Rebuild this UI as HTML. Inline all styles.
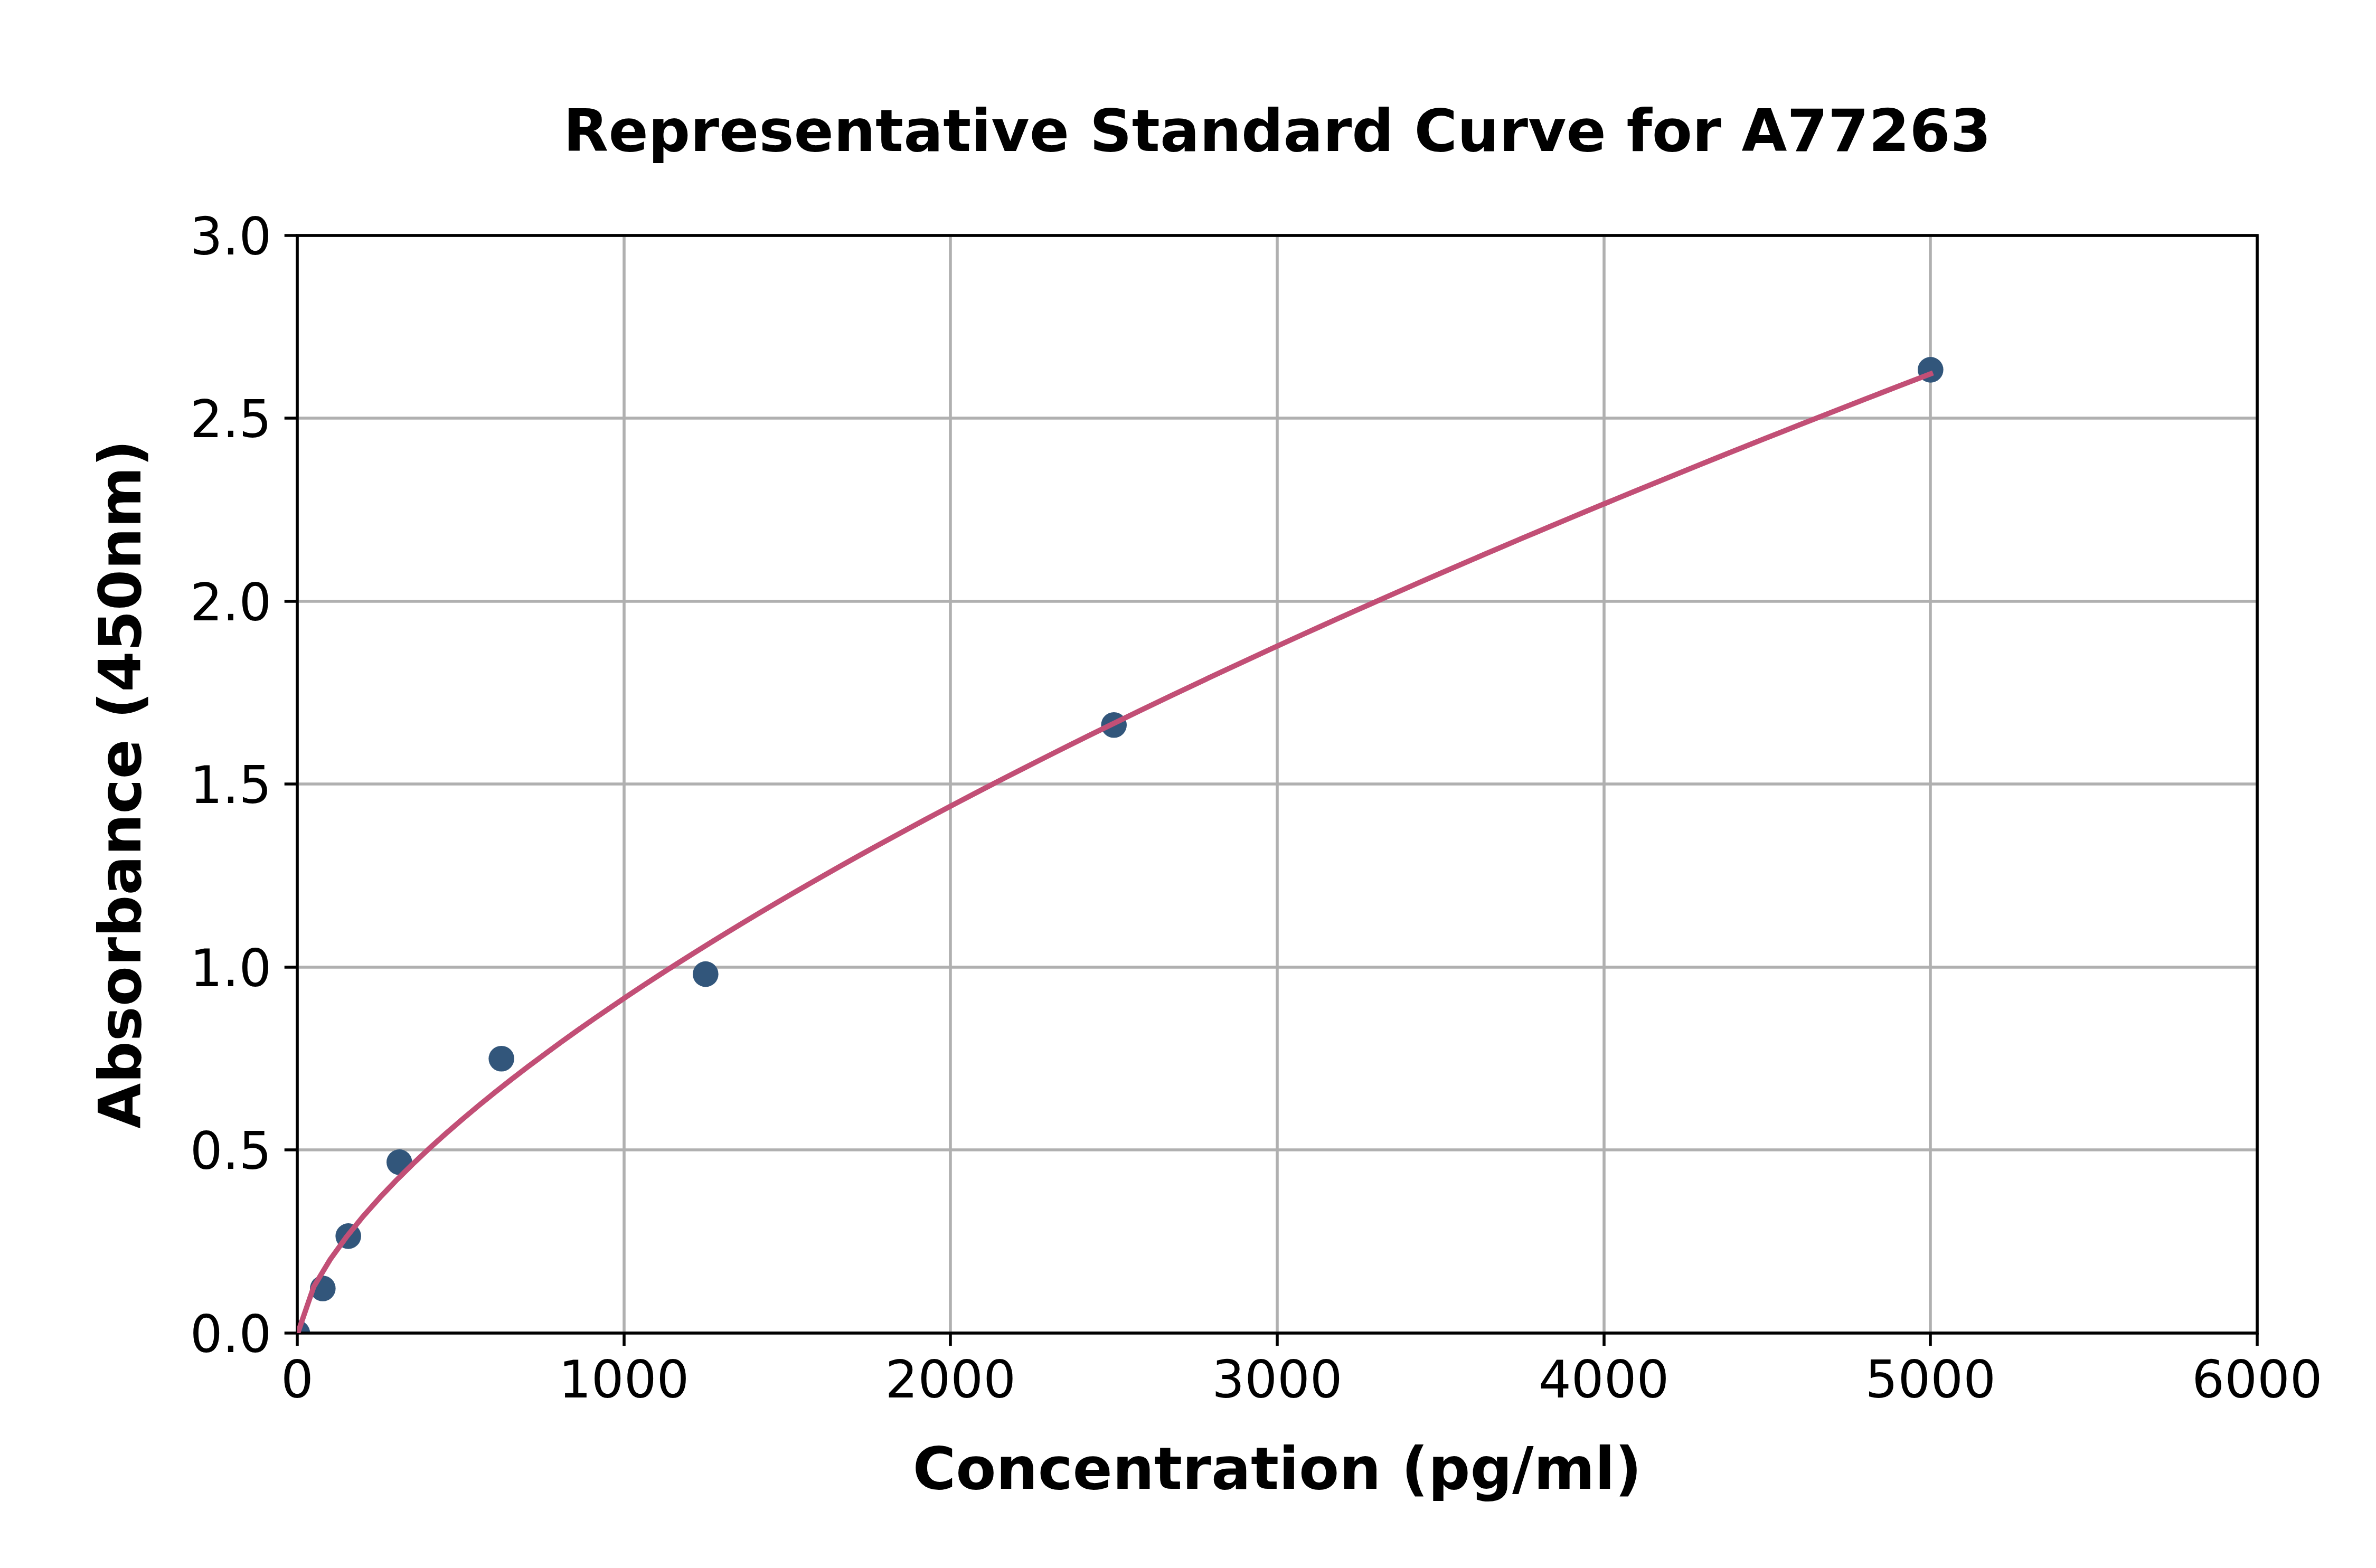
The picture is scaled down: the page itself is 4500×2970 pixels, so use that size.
<!DOCTYPE html>
<html lang="en"><head><meta charset="utf-8"><title>Representative Standard Curve for A77263</title>
<style>html,body{margin:0;padding:0;background:#fff;}body{width:4500px;height:2970px;overflow:hidden;}svg{display:block;}text{font-family:"DejaVu Sans","Liberation Sans",sans-serif;fill:#000;}.t{font-size:97.22px;}.b{font-size:111.11px;font-weight:bold;}</style></head><body>
<svg width="4500" height="2970" viewBox="0 0 4500 2970">
<rect width="4500" height="2970" fill="#fff"/>
<defs><clipPath id="ax"><rect x="563" y="446" width="3712" height="2079"/></clipPath></defs>
<path d="M563.00 446 V2525 M1182.00 446 V2525 M1800.00 446 V2525 M2419.00 446 V2525 M3038.00 446 V2525 M3656.00 446 V2525 M4275.00 446 V2525 M563 2525.00 H4275 M563 2178.00 H4275 M563 1832.00 H4275 M563 1485.00 H4275 M563 1139.00 H4275 M563 792.00 H4275 M563 446.00 H4275" stroke="#b0b0b0" stroke-width="5.56" fill="none"/>
<g clip-path="url(#ax)" fill="#32567b">
<circle cx="563.00" cy="2525.00" r="24.3"/>
<circle cx="611.33" cy="2440.45" r="24.3"/>
<circle cx="659.67" cy="2341.36" r="24.3"/>
<circle cx="756.33" cy="2201.37" r="24.3"/>
<circle cx="949.67" cy="2005.25" r="24.3"/>
<circle cx="1336.33" cy="1845.17" r="24.3"/>
<circle cx="2109.67" cy="1373.23" r="24.3"/>
<circle cx="3656.33" cy="700.33" r="24.3"/>
</g>
<path d="M563.00 2525 v24.30 M1182.00 2525 v24.30 M1800.00 2525 v24.30 M2419.00 2525 v24.30 M3038.00 2525 v24.30 M3656.00 2525 v24.30 M4275.00 2525 v24.30 M563 2525.00 h-24.30 M563 2178.00 h-24.30 M563 1832.00 h-24.30 M563 1485.00 h-24.30 M563 1139.00 h-24.30 M563 792.00 h-24.30 M563 446.00 h-24.30" stroke="#000" stroke-width="5.56" fill="none"/>
<rect x="563" y="446" width="3712" height="2079" fill="none" stroke="#000" stroke-width="5.56" stroke-linejoin="miter"/>
<polyline clip-path="url(#ax)" points="563.00,2527.91 594.25,2437.21 625.49,2385.31 656.74,2342.10 687.98,2303.71 719.23,2268.56 750.47,2235.78 781.72,2204.86 812.97,2175.44 844.21,2147.27 875.46,2120.18 906.70,2094.01 937.95,2068.65 969.20,2044.02 1000.44,2020.04 1031.69,1996.65 1062.93,1973.80 1094.18,1951.43 1125.42,1929.52 1156.67,1908.03 1187.92,1886.93 1219.16,1866.19 1250.41,1845.80 1281.65,1825.72 1312.90,1805.94 1344.14,1786.45 1375.39,1767.23 1406.64,1748.26 1437.88,1729.54 1469.13,1711.05 1500.37,1692.78 1531.62,1674.71 1562.87,1656.86 1594.11,1639.19 1625.36,1621.71 1656.60,1604.40 1687.85,1587.27 1719.09,1570.30 1750.34,1553.49 1781.59,1536.84 1812.83,1520.33 1844.08,1503.97 1875.32,1487.74 1906.57,1471.65 1937.81,1455.69 1969.06,1439.85 2000.31,1424.13 2031.55,1408.54 2062.80,1393.06 2094.04,1377.69 2125.29,1362.42 2156.54,1347.27 2187.78,1332.22 2219.03,1317.27 2250.27,1302.41 2281.52,1287.65 2312.76,1272.99 2344.01,1258.41 2375.26,1243.93 2406.50,1229.53 2437.75,1215.22 2468.99,1200.98 2500.24,1186.83 2531.48,1172.76 2562.73,1158.77 2593.98,1144.85 2625.22,1131.01 2656.47,1117.24 2687.71,1103.54 2718.96,1089.91 2750.21,1076.35 2781.45,1062.86 2812.70,1049.43 2843.94,1036.07 2875.19,1022.77 2906.43,1009.53 2937.68,996.36 2968.93,983.24 3000.17,970.19 3031.42,957.19 3062.66,944.25 3093.91,931.37 3125.15,918.54 3156.40,905.76 3187.65,893.04 3218.89,880.37 3250.14,867.76 3281.38,855.19 3312.63,842.68 3343.88,830.21 3375.12,817.79 3406.37,805.42 3437.61,793.10 3468.86,780.83 3500.10,768.60 3531.35,756.41 3562.60,744.28 3593.84,732.18 3625.09,720.13 3656.33,708.12" fill="none" stroke="#c24f76" stroke-width="10" stroke-linecap="square" stroke-linejoin="round"/>
<text class="t" x="563.00" y="2647" text-anchor="middle">0</text>
<text class="t" x="1181.67" y="2647" text-anchor="middle">1000</text>
<text class="t" x="1800.33" y="2647" text-anchor="middle">2000</text>
<text class="t" x="2419.00" y="2647" text-anchor="middle">3000</text>
<text class="t" x="3037.67" y="2647" text-anchor="middle">4000</text>
<text class="t" x="3656.33" y="2647" text-anchor="middle">5000</text>
<text class="t" x="4275.00" y="2647" text-anchor="middle">6000</text>
<text class="t" x="514.4" y="2560.50" text-anchor="end">0.0</text>
<text class="t" x="514.4" y="2214.00" text-anchor="end">0.5</text>
<text class="t" x="514.4" y="1867.50" text-anchor="end">1.0</text>
<text class="t" x="514.4" y="1521.00" text-anchor="end">1.5</text>
<text class="t" x="514.4" y="1174.50" text-anchor="end">2.0</text>
<text class="t" x="514.4" y="828.00" text-anchor="end">2.5</text>
<text class="t" x="514.4" y="481.50" text-anchor="end">3.0</text>
<text class="b" x="2419" y="285.5" text-anchor="middle">Representative Standard Curve for A77263</text>
<text class="b" x="2419" y="2819.6" text-anchor="middle">Concentration (pg/ml)</text>
<text class="b" transform="translate(265.5 1485.5) rotate(-90)" text-anchor="middle">Absorbance (450nm)</text>
</svg></body></html>
